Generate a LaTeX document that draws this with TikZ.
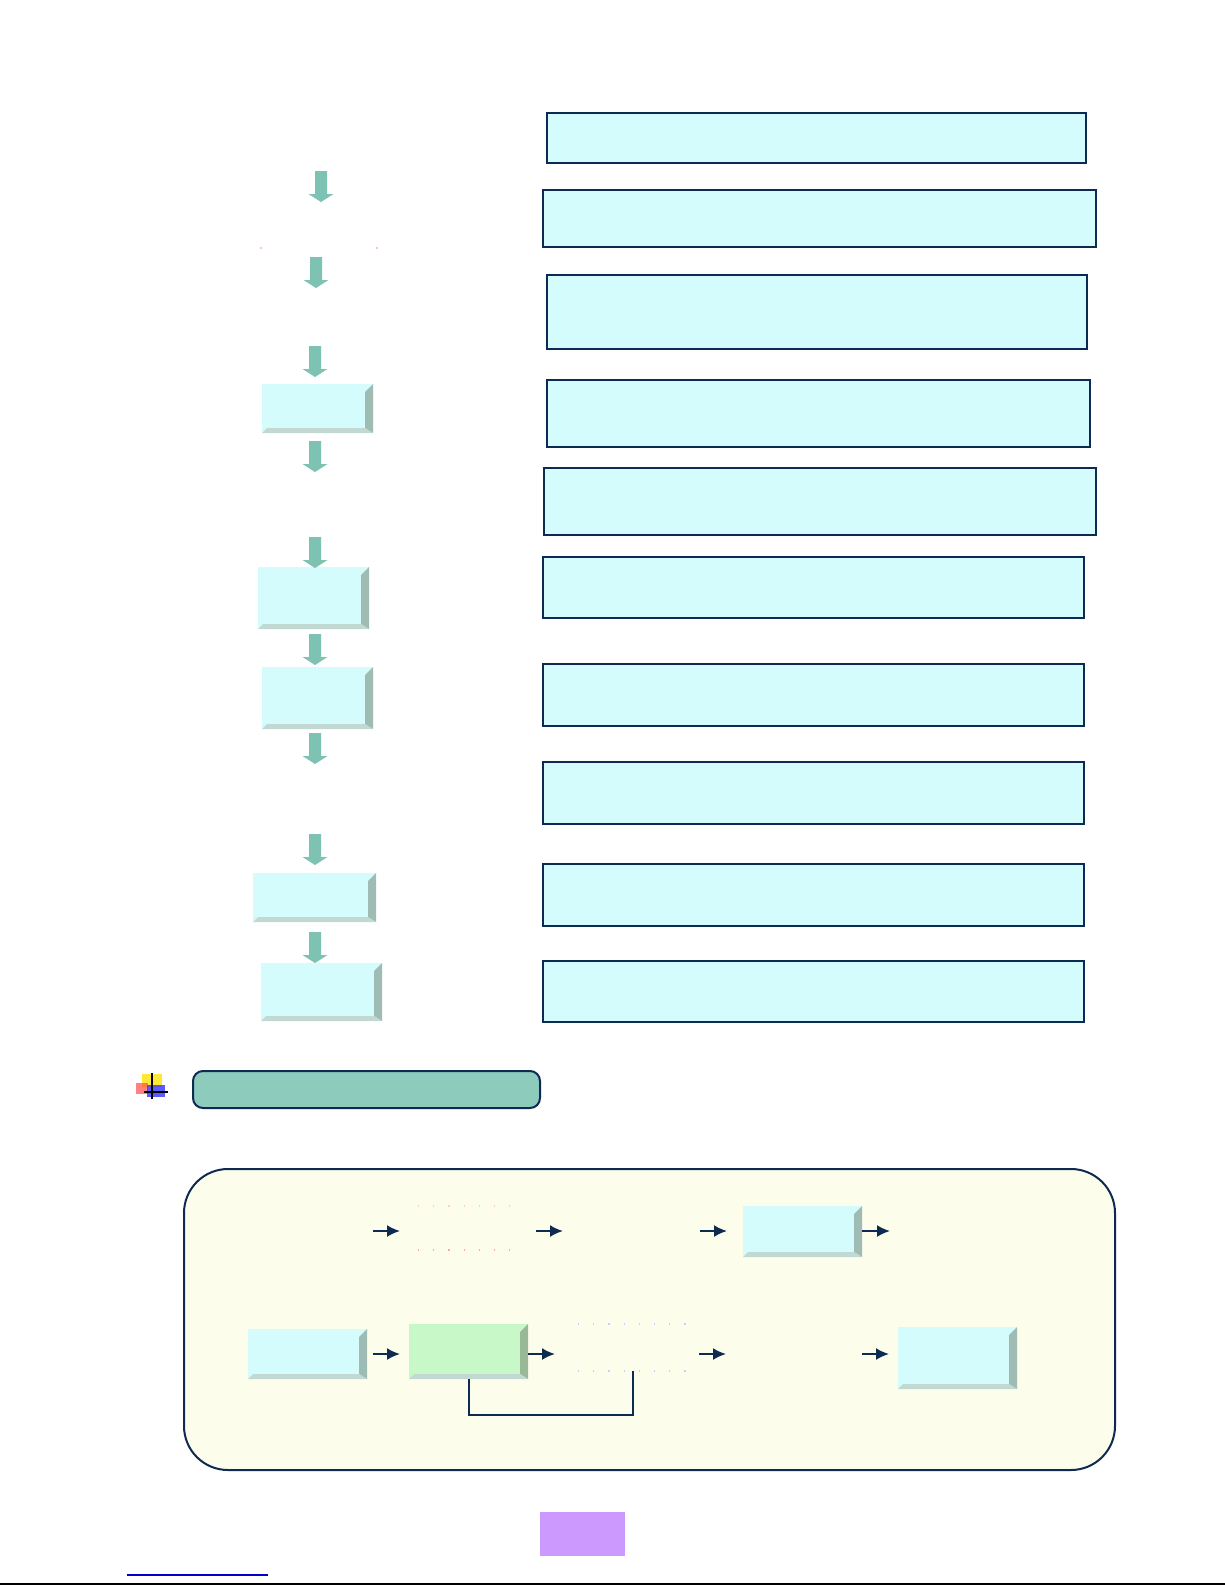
\documentclass[tikz,border=0pt]{standalone}
\usetikzlibrary{arrows.meta,calc}
\definecolor{navy}{HTML}{0D2B52}
\definecolor{boxcyan}{HTML}{D4FCFC}
\definecolor{arrowteal}{HTML}{7DC2B3}
\definecolor{bevelr}{HTML}{9FBCB4}
\definecolor{bevelb}{HTML}{C2D8D2}
\definecolor{boxgreen}{HTML}{C8F8C8}
\definecolor{bevelg}{HTML}{98B898}
\definecolor{panelfill}{HTML}{FDFDEB}
\definecolor{bannerfill}{HTML}{8DCBBD}
\definecolor{purplebox}{HTML}{CC99FF}
\newcommand\mybox[6]{%
  \node[#1, minimum width={(#5-#3)*0.5pt}, minimum height={(#6-#4)*0.5pt}] (#2) at ({(#3+#5)/2},{(#4+#6)/2}) {};}
\newcommand\mybevel[2]{%
  \fill[#2] (#1.north east) -- (#1.south east) -- ($(#1.south east)+(-8,-5)$) -- ($(#1.north east)+(-8,8)$) -- cycle;
  \fill[bevelb] (#1.south west) -- (#1.south east) -- ($(#1.south east)+(-8,-5)$) -- ($(#1.south west)+(5,-5)$) -- cycle;}
\tikzset{
  rbox/.style={draw=navy, fill=boxcyan, line width=1.2pt, inner sep=0pt, outer sep=0pt},
  rboxthin/.style={draw=navy, fill=boxcyan, line width=0.9pt, inner sep=0pt, outer sep=0pt},
  lbox/.style={fill=boxcyan, inner sep=0pt, outer sep=0pt},
  gbox/.style={fill=boxgreen, inner sep=0pt, outer sep=0pt},
  darrow/.pic={\fill[arrowteal] (-6,0) -- (6,0) -- (6,23) -- (12.5,23) -- (0,31) -- (-12.5,23) -- (-6,23) -- cycle;},
  flowarrow/.style={draw=navy, line width=1pt, -{Latex[length=6.5pt,width=6pt]}},
  bracketline/.style={draw=navy, line width=1pt},
  faintdots/.style={line width=0.6pt, dash pattern=on 0.6pt off 7pt}
}
\begin{document}
\begin{tikzpicture}[x=0.5pt,y=-0.5pt]
\fill[white] (0,0) rectangle (1225,1585);
\path[use as bounding box] (0,0) rectangle (1225,1585);

% right column boxes
\mybox{rbox}{r1}{547}{113}{1086}{163}
\mybox{rboxthin}{r2}{543}{190}{1096}{247}
\mybox{rbox}{r3}{547}{275}{1087}{349}
\mybox{rboxthin}{r4}{547}{380}{1090}{447}
\mybox{rbox}{r5}{544}{468}{1096}{535}
\mybox{rbox}{r6}{543}{557}{1084}{618}
\mybox{rbox}{r7}{543}{664}{1084}{726}
\mybox{rbox}{r8}{543}{762}{1084}{824}
\mybox{rbox}{r9}{543}{864}{1084}{926}
\mybox{rbox}{r10}{543}{961}{1084}{1022}

% left column boxes
\mybox{lbox}{la}{262}{384}{373}{433}
\mybevel{la}{bevelr}
\mybox{lbox}{lb}{258}{567}{369}{629}
\mybevel{lb}{bevelr}
\mybox{lbox}{lc}{262}{667}{373}{729}
\mybevel{lc}{bevelr}
\mybox{lbox}{ld}{253}{873}{376}{922}
\mybevel{ld}{bevelr}
\mybox{lbox}{le}{261}{963}{382}{1021}
\mybevel{le}{bevelr}

% down arrows
\pic at (321,171) {darrow};
\pic at (316,257) {darrow};
\pic at (315,346) {darrow};
\pic at (315,441) {darrow};
\pic at (315,537) {darrow};
\pic at (315,634) {darrow};
\pic at (315,733) {darrow};
\pic at (315,834) {darrow};
\pic at (315,932) {darrow};

% tiny remnant marks
\fill[red!50] (261,248) circle (0.8);
\fill[red!50] (377,248) circle (0.8);

% bullet icon
\fill[yellow!85!orange, opacity=0.8] (142,1074) rectangle (162,1087);
\fill[red!70, opacity=0.7] (136,1083) rectangle (148,1094);
\fill[blue!80, opacity=0.8] (147,1085) rectangle (165,1097);
\draw[black, line width=1.2pt] (152,1073) -- (152,1099);
\draw[black, line width=1.2pt] (144,1092) -- (168,1092);

% banner
\node[draw=navy, fill=bannerfill, line width=1pt, rounded corners=5pt, inner sep=0pt,
      minimum width={(540-193)*0.5pt}, minimum height={(1108-1071)*0.5pt}] (banner) at (366.5,1089.5) {};

% panel
\node[draw=navy, fill=panelfill, line width=1pt, rounded corners=22pt, inner sep=0pt,
      minimum width={(1115-184)*0.5pt}, minimum height={(1470-1169)*0.5pt}] (panel) at (649.5,1319.5) {};

% panel faint dotted remnants
\draw[faintdots, draw=red!20] (418,1206) -- (522,1206);
\draw[faintdots, draw=red!35] (418,1250) -- (522,1250);
\draw[faintdots, draw=blue!20] (578,1324) -- (692,1324);
\draw[faintdots, draw=blue!20] (578,1371) -- (692,1371);

% panel boxes
\mybox{lbox}{pr1}{743}{1206}{862}{1257}
\mybevel{pr1}{bevelr}
\mybox{lbox}{pl1}{248}{1329}{367}{1379}
\mybevel{pl1}{bevelr}
\mybox{gbox}{pg}{409}{1324}{528}{1379}
\mybevel{pg}{bevelg}
\mybox{lbox}{pr2}{898}{1327}{1017}{1389}
\mybevel{pr2}{bevelr}

% row 1 arrows
\coordinate (a1s) at (373,1231); \coordinate (a1e) at (400,1231);
\coordinate (a2s) at (536,1231); \coordinate (a2e) at (563,1231);
\coordinate (a3s) at (700,1231); \coordinate (a3e) at (727,1231);
\coordinate (a4e) at (890,1231);
\draw[flowarrow] (a1s) -- (a1e);
\draw[flowarrow] (a2s) -- (a2e);
\draw[flowarrow] (a3s) -- (a3e);
\draw[flowarrow] (pr1.east |- a4e) -- (a4e);

% row 2 arrows
\coordinate (b1s) at (373,1354); \coordinate (b1e) at (400,1354);
\coordinate (b2e) at (555,1354);
\coordinate (b3s) at (699,1354); \coordinate (b3e) at (726,1354);
\coordinate (b4s) at (862,1354); \coordinate (b4e) at (889,1354);
\draw[flowarrow] (b1s) -- (b1e);
\draw[flowarrow] (pg.east |- b2e) -- (b2e);
\draw[flowarrow] (b3s) -- (b3e);
\draw[flowarrow] (b4s) -- (b4e);

% bracket
\coordinate (brk) at (633,1371);
\draw[bracketline] (pg.south) -- (pg.south |- 0,1415) -- (brk |- 0,1415) -- (brk);

% bottom items
\fill[purplebox] (540,1512) rectangle (625,1556);
\draw[blue!80!black, line width=1pt] (127,1575) -- (268,1575);
\draw[black, line width=1.2pt] (0,1584) -- (1225,1584);
\end{tikzpicture}
\end{document}
